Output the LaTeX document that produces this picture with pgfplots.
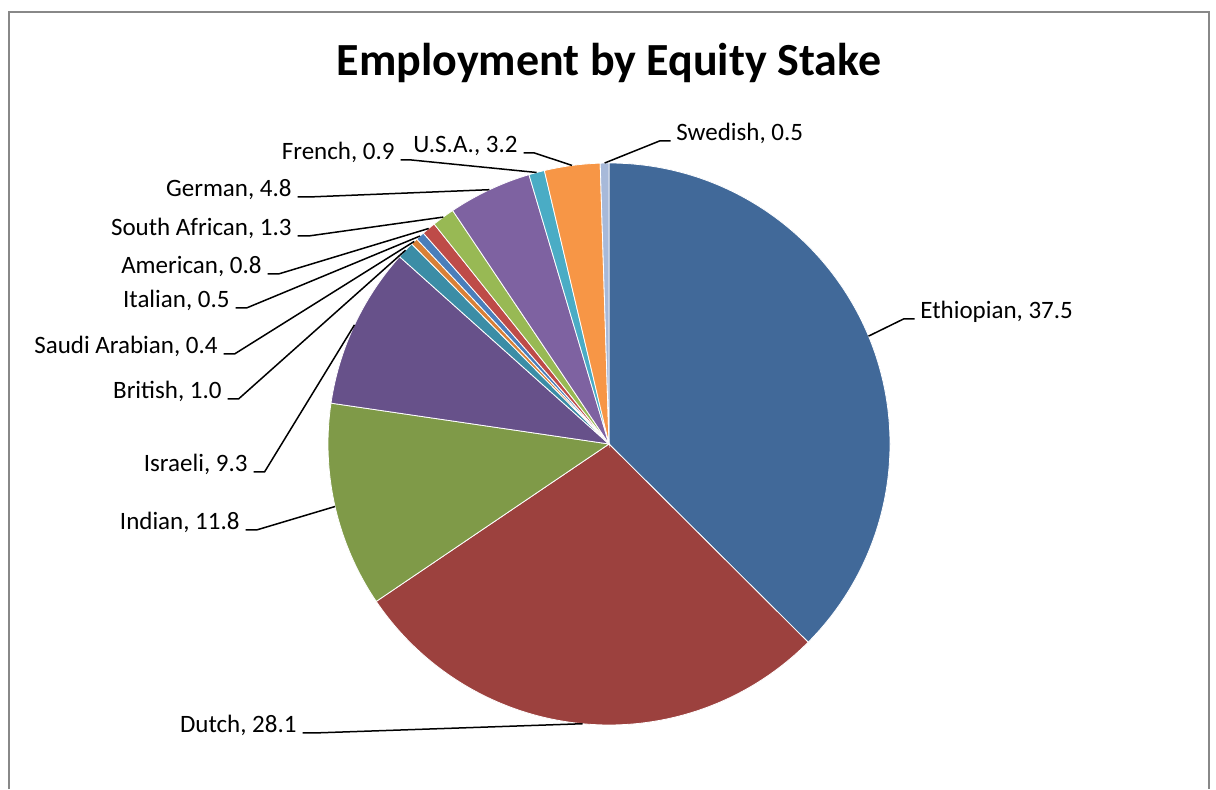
\documentclass[border=0pt]{standalone}
\usepackage{pgfplots}
\usepackage{pgfplotstable}
\pgfplotsset{compat=1.18}
\usepackage{fontspec}
\setmainfont{Carlito}

% slice colours (Excel 2007 style)
\definecolor{c1}{HTML}{416999}
\definecolor{c2}{HTML}{9C413E}
\definecolor{c3}{HTML}{7F9A48}
\definecolor{c4}{HTML}{67518A}
\definecolor{c5}{HTML}{3B8DA6}
\definecolor{c6}{HTML}{D98036}
\definecolor{c7}{HTML}{4A7EBB}
\definecolor{c8}{HTML}{BE4B48}
\definecolor{c9}{HTML}{98B954}
\definecolor{c10}{HTML}{7E62A1}
\definecolor{c11}{HTML}{4AACC5}
\definecolor{c12}{HTML}{F79646}
\definecolor{c13}{HTML}{A7B9D9}
\definecolor{framegray}{HTML}{888888}

% value in %, label anchor (px), side of label (1 right, -1 left)
\pgfplotstableread[col sep=comma]{
name,value,lx,ly,side,col
Ethiopian,37.5,920,319,1,c1
Dutch,28.1,297,733,-1,c2
Indian,11.8,240,530,-1,c3
Israeli,9.3,248,472,-1,c4
British,1.0,222,399,-1,c5
Saudi Arabian,0.4,218,354,-1,c6
Italian,0.5,230,308,-1,c7
American,0.8,262,274,-1,c8
South African,1.3,292,236,-1,c9
German,4.8,292,197,-1,c10
French,0.9,395,160,-1,c11
U.S.A.,3.2,518,153,-1,c12
Swedish,0.5,676,141,1,c13
}\piedata

\begin{document}
\begin{tikzpicture}
\begin{axis}[
  scale only axis, width=608pt, height=394.5pt,
  xmin=0, xmax=1216, ymin=0, ymax=789, y dir=reverse,
  axis lines=none, ticks=none, clip=false,
]
\path (axis cs:0,0) (axis cs:1216,789);
% chart frame
\draw[framegray, line width=1pt] (axis cs:8.5,789) -- (axis cs:8.5,12.5)
  -- (axis cs:1208.5,12.5) -- (axis cs:1208.5,789);
\node[anchor=base, font=\fontsize{23pt}{27pt}\selectfont\bfseries]
  at (axis cs:609,76) {Employment by Equity Stake};

\pgfplotstablegetrowsof{\piedata}
\pgfmathtruncatemacro\lastrow{\pgfplotsretval-1}
\def\cum{0}
\pgfplotsforeachungrouped \i in {0,...,\lastrow}{
  \pgfplotstablegetelem{\i}{name}\of\piedata \let\nm\pgfplotsretval
  \pgfplotstablegetelem{\i}{value}\of\piedata \let\pieval\pgfplotsretval
  \pgfplotstablegetelem{\i}{lx}\of\piedata \let\lx\pgfplotsretval
  \pgfplotstablegetelem{\i}{ly}\of\piedata \let\ly\pgfplotsretval
  \pgfplotstablegetelem{\i}{side}\of\piedata \let\side\pgfplotsretval
  \pgfplotstablegetelem{\i}{col}\of\piedata \let\col\pgfplotsretval
  \pgfmathsetmacro\sa{90-\cum/100.1*360}
  \pgfmathsetmacro\cumnew{\cum+\pieval}
  \pgfmathsetmacro\sb{90-\cumnew/100.1*360}
  \pgfmathsetmacro\sm{(\sa+\sb)/2}
  \pgfmathsetmacro\xa{\lx-\side*5.5}
  \pgfmathsetmacro\xb{\lx-\side*16.5}
  \ifnum\side>0 \def\anc{base west}\else\def\anc{base east}\fi
  \edef\cmd{%
    \noexpand\fill[\col, draw=white, line width=0.4pt] (axis cs:609,444)
      -- ([shift={(\sa:140.5pt)}]axis cs:609,444)
      arc[start angle=\sa, end angle=\sb, radius=140.5pt] -- cycle;
    \noexpand\draw[black, line width=0.75pt]
      ([shift={(\sm:140.5pt)}]axis cs:609,444) -- (axis cs:\xb,\ly) -- (axis cs:\xa,\ly);
    \noexpand\node[anchor=\anc, inner sep=0pt, font=\noexpand\fontsize{12.5pt}{15pt}\noexpand\selectfont]
      at (axis cs:\lx,\ly) {\nm, \pieval};
  }
  \cmd
  \let\cum\cumnew
}
\end{axis}
\end{tikzpicture}
\end{document}
